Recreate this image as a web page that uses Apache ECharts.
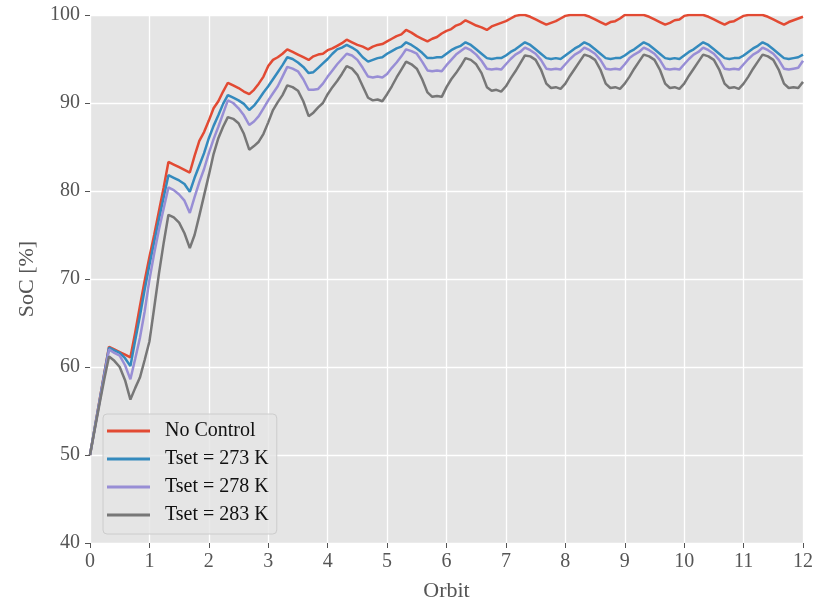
<!DOCTYPE html>
<html>
<head>
<meta charset="utf-8">
<script src="https://cdn.jsdelivr.net/npm/echarts@6/dist/echarts.min.js"></script>
<style>
  html, body { margin: 0; padding: 0; background: #ffffff; }
  #chart { width: 818px; height: 607px; }
</style>
</head>
<body>
<div id="chart"></div>
<script>
// Sample times along the mission, in orbits
const orbit = [
  0, 0.08, 0.16, 0.24, 0.32, 0.41, 0.50, 0.59, 0.68, 0.76, 0.84, 0.92,
  1, 1.08, 1.16, 1.24, 1.32, 1.41, 1.50, 1.59, 1.68, 1.76, 1.84, 1.92,
  2, 2.08, 2.16, 2.24, 2.32, 2.41, 2.50, 2.59, 2.68, 2.76, 2.84, 2.92,
  3, 3.08, 3.16, 3.24, 3.32, 3.41, 3.50, 3.59, 3.68, 3.76, 3.84, 3.92,
  4, 4.08, 4.16, 4.24, 4.32, 4.41, 4.50, 4.59, 4.68, 4.76, 4.84, 4.92,
  5, 5.08, 5.16, 5.24, 5.32, 5.41, 5.50, 5.59, 5.68, 5.76, 5.84, 5.92,
  6, 6.08, 6.16, 6.24, 6.32, 6.41, 6.50, 6.59, 6.68, 6.76, 6.84, 6.92,
  7, 7.08, 7.16, 7.24, 7.32, 7.41, 7.50, 7.59, 7.68, 7.76, 7.84, 7.92,
  8, 8.08, 8.16, 8.24, 8.32, 8.41, 8.50, 8.59, 8.68, 8.76, 8.84, 8.92,
  9, 9.08, 9.16, 9.24, 9.32, 9.41, 9.50, 9.59, 9.68, 9.76, 9.84, 9.92,
  10, 10.08, 10.16, 10.24, 10.32, 10.41, 10.50, 10.59, 10.68, 10.76, 10.84, 10.92,
  11, 11.08, 11.16, 11.24, 11.32, 11.41, 11.50, 11.59, 11.68, 11.76, 11.84, 11.92,
  12
];

// State of charge [%] for each case
const socNoControl = [
  50.0, 53.1, 56.2, 59.3, 62.3, 62.0, 61.7, 61.4, 61.1, 63.9, 66.9, 69.8,
  72.5, 75.0, 77.7, 80.4, 83.3, 83.0, 82.7, 82.4, 82.1, 84.0, 85.7, 86.7,
  88.0, 89.4, 90.2, 91.3, 92.3, 92.0, 91.7, 91.3, 91.0, 91.5, 92.2, 93.0,
  94.2, 94.9, 95.2, 95.6, 96.1, 95.8, 95.5, 95.2, 94.9, 95.3, 95.5, 95.6,
  96.0, 96.2, 96.5, 96.8, 97.2, 96.9, 96.6, 96.4, 96.1, 96.4, 96.6, 96.7,
  97.0, 97.3, 97.6, 97.8, 98.3, 98.0, 97.6, 97.3, 97.0, 97.3, 97.5, 97.9,
  98.2, 98.4, 98.8, 99.0, 99.4, 99.1, 98.8, 98.6, 98.3, 98.7, 98.9, 99.1,
  99.3, 99.6, 99.9, 100, 100, 99.8, 99.5, 99.2, 98.9, 99.1, 99.3, 99.6,
  99.9, 100, 100, 100, 100, 99.8, 99.5, 99.2, 98.9, 99.2, 99.3, 99.6,
  100, 100, 100, 100, 100, 99.8, 99.5, 99.2, 98.9, 99.1, 99.4, 99.5,
  99.9, 100, 100, 100, 100, 99.8, 99.5, 99.2, 98.9, 99.2, 99.3, 99.6,
  99.9, 100, 100, 100, 100, 99.8, 99.5, 99.2, 98.9, 99.2, 99.4, 99.6,
  99.8
];

const socT273 = [
  50.0, 53.1, 56.1, 59.2, 62.2, 61.9, 61.6, 61.0, 60.1, 63.0, 65.8, 68.8,
  71.6, 74.2, 76.8, 79.3, 81.8, 81.5, 81.2, 80.8, 79.9, 81.5, 82.9, 84.3,
  86.0, 87.4, 88.6, 89.9, 90.9, 90.6, 90.3, 89.9, 89.2, 89.7, 90.4, 91.2,
  91.9, 92.7, 93.5, 94.3, 95.2, 95.0, 94.6, 94.1, 93.4, 93.5, 94.0, 94.5,
  95.0, 95.6, 96.1, 96.3, 96.6, 96.3, 95.9, 95.2, 94.7, 94.9, 95.1, 95.2,
  95.6, 95.9, 96.2, 96.4, 96.9, 96.6, 96.2, 95.7, 95.1, 95.1, 95.2, 95.2,
  95.6, 96.0, 96.3, 96.5, 96.9, 96.6, 96.1, 95.6, 95.1, 95.0, 95.1, 95.1,
  95.4, 95.8, 96.1, 96.5, 96.9, 96.6, 96.1, 95.6, 95.1, 95.0, 95.1, 95.0,
  95.4, 95.8, 96.2, 96.5, 96.9, 96.6, 96.1, 95.6, 95.1, 95.0, 95.1, 95.1,
  95.4, 95.8, 96.1, 96.5, 96.9, 96.6, 96.1, 95.6, 95.1, 95.0, 95.1, 95.0,
  95.4, 95.8, 96.1, 96.5, 96.9, 96.6, 96.1, 95.6, 95.1, 95.0, 95.1, 95.1,
  95.4, 95.8, 96.2, 96.5, 96.9, 96.6, 96.1, 95.6, 95.1, 95.0, 95.1, 95.2,
  95.5
];

const socT278 = [
  50.0, 53.0, 56.0, 59.0, 62.0, 61.6, 61.3, 60.2, 58.6, 60.9, 63.3, 66.3,
  69.9, 72.9, 75.6, 78.0, 80.4, 80.1, 79.6, 78.9, 77.5, 79.3, 81.0, 82.5,
  84.3, 85.9, 87.3, 88.8, 90.3, 90.0, 89.4, 88.6, 87.5, 87.9, 88.5, 89.4,
  90.3, 91.1, 91.9, 93.0, 94.1, 93.9, 93.6, 92.7, 91.5, 91.5, 91.6, 92.2,
  93.0, 93.7, 94.4, 95.0, 95.6, 95.4, 94.9, 94.0, 93.0, 92.9, 93.0, 92.9,
  93.3, 94.0, 94.6, 95.3, 96.1, 95.9, 95.6, 94.7, 93.7, 93.6, 93.7, 93.6,
  94.3, 94.9, 95.5, 95.9, 96.3, 96.0, 95.5, 94.8, 93.9, 93.8, 93.9, 93.8,
  94.4, 95.0, 95.5, 95.8, 96.3, 96.0, 95.6, 94.9, 93.9, 93.8, 93.9, 93.8,
  94.4, 95.0, 95.5, 95.8, 96.3, 96.0, 95.6, 94.9, 93.9, 93.8, 93.9, 93.8,
  94.4, 95.1, 95.5, 95.8, 96.3, 96.0, 95.6, 94.9, 93.9, 93.8, 93.9, 93.8,
  94.4, 95.0, 95.5, 95.8, 96.3, 96.0, 95.6, 94.9, 93.9, 93.8, 93.9, 93.8,
  94.4, 95.0, 95.5, 95.8, 96.3, 96.0, 95.6, 94.9, 93.9, 93.8, 93.9, 94.0,
  94.8
];

const socT283 = [
  50.0, 52.9, 55.8, 58.6, 61.2, 60.7, 60.0, 58.5, 56.3, 57.6, 58.8, 60.8,
  62.9, 66.7, 70.6, 74.1, 77.3, 77.0, 76.4, 75.2, 73.5, 75.0, 77.2, 79.5,
  81.8, 84.2, 86.0, 87.3, 88.4, 88.2, 87.7, 86.5, 84.7, 85.1, 85.6, 86.5,
  87.8, 89.2, 90.1, 90.9, 92.0, 91.8, 91.4, 90.2, 88.5, 88.9, 89.5, 90.0,
  91.0, 91.8, 92.5, 93.3, 94.2, 93.9, 93.2, 91.9, 90.6, 90.3, 90.4, 90.2,
  91.0, 91.9, 92.9, 93.8, 94.7, 94.4, 93.9, 92.7, 91.2, 90.7, 90.8, 90.7,
  91.8, 92.7, 93.4, 94.2, 95.1, 94.9, 94.4, 93.4, 91.8, 91.4, 91.5, 91.3,
  91.9, 92.8, 93.6, 94.5, 95.4, 95.3, 94.9, 93.8, 92.2, 91.7, 91.8, 91.6,
  92.2, 93.1, 93.9, 94.7, 95.5, 95.3, 94.9, 93.8, 92.2, 91.7, 91.8, 91.6,
  92.2, 93.0, 93.9, 94.7, 95.5, 95.3, 94.9, 93.8, 92.2, 91.7, 91.8, 91.6,
  92.2, 93.1, 93.9, 94.7, 95.5, 95.3, 94.9, 93.8, 92.2, 91.7, 91.8, 91.6,
  92.2, 93.0, 93.9, 94.7, 95.5, 95.3, 94.9, 93.8, 92.2, 91.7, 91.8, 91.7,
  92.4
];

const seriesNames = ['No Control', 'Tset = 273 K', 'Tset = 278 K', 'Tset = 283 K'];
const seriesValues = [socNoControl, socT273, socT278, socT283];
const seriesColors = ['#E24A33', '#348ABD', '#988ED5', '#777777'];

const FONT = '"Liberation Serif", "DejaVu Serif", serif';

const chart = echarts.init(document.getElementById('chart'), null, { renderer: 'canvas' });

const axisCommon = {
  axisLine: { show: false },
  axisTick: { show: true, inside: false, length: 5, lineStyle: { color: '#555555', width: 1 } },
  axisLabel: { color: '#555555', fontFamily: FONT, fontSize: 20 },
  splitLine: { show: true, lineStyle: { color: '#ffffff', width: 1.3 } },
  nameTextStyle: { color: '#555555', fontFamily: FONT, fontSize: 22 }
};

chart.setOption({
  animation: false,
  backgroundColor: '#ffffff',
  grid: {
    left: 90, right: 15, top: 15, bottom: 64,
    show: true, backgroundColor: '#E5E5E5', borderWidth: 0
  },
  xAxis: Object.assign({}, axisCommon, {
    type: 'value', min: 0, max: 12, interval: 1,
    name: 'Orbit', nameLocation: 'middle', nameGap: 37,
    axisLabel: Object.assign({}, axisCommon.axisLabel, { margin: 9 })
  }),
  yAxis: Object.assign({}, axisCommon, {
    type: 'value', min: 40, max: 100, interval: 10,
    name: 'SoC [%]', nameLocation: 'middle', nameGap: 52,
    axisLabel: Object.assign({}, axisCommon.axisLabel, { margin: 10 })
  }),
  legend: {
    orient: 'vertical',
    left: 103, top: 414,
    data: seriesNames,
    icon: 'rect',
    itemWidth: 43, itemHeight: 3,
    itemGap: 8,
    padding: [7, 8, 9, 4],
    backgroundColor: 'rgba(229,229,229,0.8)',
    borderColor: '#cccccc', borderWidth: 1, borderRadius: 4,
    textStyle: { color: '#111111', fontFamily: FONT, fontSize: 20, lineHeight: 20, padding: [0, 0, 0, 10] }
  },
  series: seriesNames.map((name, s) => ({
    name: name,
    type: 'line',
    showSymbol: false,
    symbol: 'none',
    color: seriesColors[s],
    lineStyle: { width: 2.5, color: seriesColors[s] },
    data: orbit.map((t, i) => [t, seriesValues[s][i]])
  }))
});
</script>
</body>
</html>
